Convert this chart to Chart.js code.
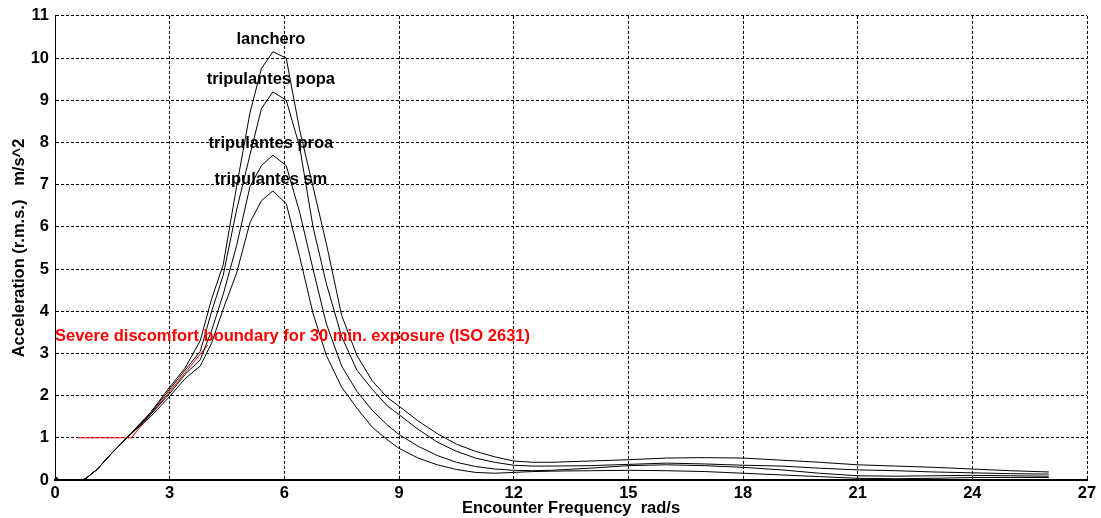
<!DOCTYPE html>
<html>
<head>
<meta charset="utf-8">
<script src="https://cdn.jsdelivr.net/npm/chart.js@4/dist/chart.umd.min.js"></script>
<style>
  html, body { margin: 0; padding: 0; background: #fff; }
  #wrap { width: 1101px; height: 518px; }
</style>
</head>
<body>
<div id="wrap"><canvas id="grafico"></canvas></div>
<script>
// frecuencias de encuentro (rad/s)
const frecuencias = [0, 0.7, 0.8, 1.1, 1.5, 2.0, 2.5, 3.0, 3.4, 3.8, 4.1, 4.4, 4.75, 5.1, 5.4, 5.7, 6.05, 6.4, 6.75, 7.1, 7.5, 7.9, 8.3, 8.7, 9.0, 9.5, 10, 10.5, 11, 11.5, 12, 12.5, 13, 14, 15, 16, 17, 18, 19, 20, 21, 22, 23, 24, 25, 26];

// aceleraciones r.m.s. (m/s^2)
const lanchero = [0, 0, 0.03, 0.25, 0.65, 1.12, 1.6, 2.2, 2.65, 3.3, 4.3, 5.1, 6.95, 8.7, 9.75, 10.15, 10.0, 8.3, 6.95, 5.6, 3.9, 2.95, 2.35, 1.95, 1.75, 1.4, 1.1, 0.85, 0.68, 0.55, 0.45, 0.42, 0.42, 0.45, 0.48, 0.52, 0.53, 0.52, 0.47, 0.42, 0.36, 0.33, 0.3, 0.26, 0.22, 0.19];
const popa = [0, 0, 0.03, 0.25, 0.65, 1.12, 1.58, 2.15, 2.6, 3.05, 4.0, 4.85, 6.4, 7.7, 8.8, 9.2, 9.0, 7.9, 6.0, 4.65, 3.4, 2.6, 2.15, 1.75, 1.55, 1.2, 0.9, 0.68, 0.52, 0.42, 0.35, 0.33, 0.33, 0.34, 0.37, 0.4, 0.38, 0.35, 0.33, 0.28, 0.24, 0.22, 0.19, 0.17, 0.15, 0.14];
const proa = [0, 0, 0.03, 0.25, 0.65, 1.1, 1.55, 2.05, 2.5, 2.85, 3.55, 4.4, 5.55, 6.95, 7.45, 7.7, 7.45, 6.35, 5.0, 3.7, 2.7, 2.1, 1.65, 1.3, 1.08, 0.8, 0.58, 0.42, 0.32, 0.26, 0.23, 0.22, 0.23, 0.28, 0.34, 0.36, 0.34, 0.3, 0.24, 0.16, 0.1, 0.09, 0.1, 0.11, 0.1, 0.09];
const sm = [0, 0, 0.03, 0.25, 0.65, 1.1, 1.5, 1.98, 2.4, 2.7, 3.25, 4.05, 4.9, 6.1, 6.62, 6.85, 6.55, 5.3, 3.95, 2.95, 2.2, 1.7, 1.25, 0.95, 0.75, 0.52, 0.36, 0.25, 0.18, 0.16, 0.18, 0.2, 0.21, 0.22, 0.23, 0.22, 0.2, 0.16, 0.12, 0.08, 0.04, 0.03, 0.04, 0.06, 0.06, 0.06];

// limite ISO 2631
const isoFrecuencias = [0.6, 2.0, 4.0];
const isoAceleracion = [1, 1, 3.2];

const nombresSeries = ['lanchero', 'tripulantes popa', 'tripulantes proa', 'tripulantes sm'];
const textoISO = 'Severe discomfort boundary for 30 min. exposure (ISO 2631)';
const tituloX = 'Encounter Frequency  rad/s';
const tituloY = 'Acceleration (r.m.s.)   m/s^2';

const fuente = '"Liberation Sans", Arial, sans-serif';

function aPuntos(xs, ys) {
    return xs.map((x, i) => ({ x: x, y: ys[i] }));
}

const serie = (nombre, valores) => ({
    label: nombre,
    data: aPuntos(frecuencias, valores),
    borderColor: '#000',
    borderWidth: 1,
    pointRadius: 0,
    tension: 0,
    fill: false
});

// etiquetas sobre cada pico y texto de la norma
const etiquetasPlugin = {
    id: 'etiquetas',
    afterDatasetsDraw(chart) {
        const ctx = chart.ctx;
        const xs = chart.scales.x;
        const ys = chart.scales.y;
        ctx.save();
        ctx.font = 'bold 16.5px ' + fuente;
        ctx.fillStyle = '#000';
        ctx.textAlign = 'center';
        ctx.textBaseline = 'middle';
        for (let i = 0; i < 4; i++) {
            const valores = chart.data.datasets[i].data;
            let pico = valores[0];
            valores.forEach(p => { if (p.y > pico.y) pico = p; });
            ctx.fillText(nombresSeries[i], xs.getPixelForValue(pico.x) - 2, ys.getPixelForValue(pico.y) - 12);
        }
        ctx.fillStyle = '#ff0000';
        ctx.textAlign = 'left';
        ctx.font = 'bold 16.5px ' + fuente;
        ctx.fillText(textoISO, xs.getPixelForValue(0), ys.getPixelForValue(3.4));
        ctx.restore();
    }
};

const rejilla = {
    color: '#000',
    lineWidth: 1,
    drawTicks: false
};

new Chart(document.getElementById('grafico'), {
    type: 'line',
    data: {
        datasets: [
            serie(nombresSeries[0], lanchero),
            serie(nombresSeries[1], popa),
            serie(nombresSeries[2], proa),
            serie(nombresSeries[3], sm),
            {
                label: 'ISO 2631',
                data: aPuntos(isoFrecuencias, isoAceleracion),
                borderColor: '#ff0000',
                borderWidth: 1,
                pointRadius: 0,
                tension: 0
            },
            {
                label: 'origen',
                data: [{ x: 0, y: 0 }],
                showLine: false,
                pointRadius: 3,
                pointBackgroundColor: '#000',
                pointBorderColor: '#000'
            }
        ]
    },
    options: {
        responsive: true,
        maintainAspectRatio: false,
        animation: false,
        layout: { padding: { left: 10, right: 14, top: 14, bottom: 0 } },
        plugins: {
            legend: { display: false },
            tooltip: { enabled: false }
        },
        scales: {
            x: {
                type: 'linear',
                min: 0,
                max: 27,
                ticks: {
                    stepSize: 3,
                    color: '#000',
                    padding: 4,
                    font: { family: fuente, size: 16.5, weight: 'bold' }
                },
                grid: rejilla,
                border: { display: true, color: '#000', width: 2, dash: [3, 2] },
                title: {
                    display: true,
                    text: tituloX,
                    color: '#000',
                    padding: 0,
                    font: { family: fuente, size: 16.5, weight: 'bold' }
                },
                afterFit(scale) { scale.height = 38; }
            },
            y: {
                min: 0,
                max: 11,
                ticks: {
                    stepSize: 1,
                    color: '#000',
                    padding: 6,
                    font: { family: fuente, size: 16.5, weight: 'bold' }
                },
                grid: rejilla,
                border: { display: true, color: '#000', width: 1, dash: [3, 2] },
                title: {
                    display: true,
                    text: tituloY,
                    color: '#000',
                    padding: 0,
                    font: { family: fuente, size: 16.5, weight: 'bold' }
                },
                afterFit(scale) { scale.width = 45; }
            }
        }
    },
    plugins: [etiquetasPlugin]
});
</script>
</body>
</html>
